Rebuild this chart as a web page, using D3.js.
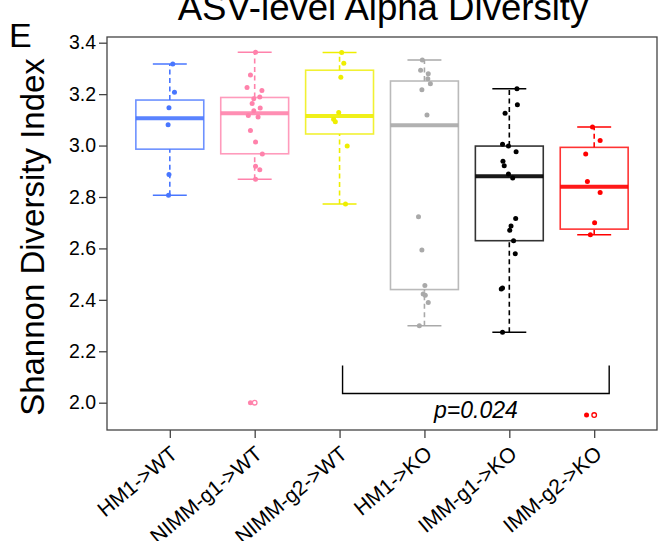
<!DOCTYPE html>
<html>
<head>
<meta charset="utf-8">
<script src="https://cdn.jsdelivr.net/npm/d3@7"></script>
<style>
    body { margin: 0; background: #fff; }
    svg { display: block; font-family: "Liberation Sans", Arial, sans-serif; }
</style>
</head>
<body>
<div class="chart"></div>
<script>
const groups = ["HM1->WT", "NIMM-g1->WT", "NIMM-g2->WT", "HM1->KO", "IMM-g1->KO", "IMM-g2->KO"]
const colors = ["#4876ff", "#ff82ab", "#eeee00", "#a9a9a9", "#000000", "#ff0000"]

// box stats: [lower whisker, q1, median, q3, upper whisker]
const boxStats = [
    [2.807, 2.986, 3.106, 3.177, 3.317],
    [2.869, 2.968, 3.126, 3.187, 3.363],
    [2.773, 3.045, 3.115, 3.293, 3.362],
    [2.299, 2.440, 3.079, 3.251, 3.333],
    [2.274, 2.630, 2.881, 2.998, 3.221],
    [2.653, 2.675, 2.840, 2.993, 3.072]
]

// shannon values per group
const hm1Wt = [3.317, 3.207, 3.147, 3.081, 2.887, 2.807]
const nimmG1Wt = [3.363, 3.274, 3.226, 3.214, 3.189, 3.182, 3.164, 3.146, 3.135, 3.117, 3.111, 3.059, 3.014, 2.967, 2.920, 2.906, 2.869, 2.000]
const nimmG2Wt = [3.362, 3.320, 3.266, 3.129, 3.102, 3.093, 2.998, 2.773]
const hm1Ko = [3.333, 3.293, 3.279, 3.260, 3.240, 3.217, 3.119, 2.723, 2.594, 2.456, 2.423, 2.418, 2.390, 2.299]
const immG1Ko = [3.221, 3.159, 3.126, 3.005, 2.998, 2.976, 2.939, 2.921, 2.889, 2.874, 2.716, 2.687, 2.671, 2.630, 2.579, 2.446, 2.442, 2.274]
const immG2Ko = [3.072, 3.020, 2.967, 2.860, 2.817, 2.700, 2.653, 1.952]
const values = [hm1Wt, nimmG1Wt, nimmG2Wt, hm1Ko, immG1Ko, immG2Ko]

// outliers (drawn as open circles)
const outliers = [[], [2.000], [], [], [], [1.952]]

// horizontal jitter of the points, as fraction of the category step
const jitter = [
    [0.035, 0.055, -0.01, -0.02, -0.01, -0.015],
    [0.01, -0.05, -0.09, 0.085, 0.06, -0.01, -0.03, 0.065, -0.01, -0.075, 0.04, -0.05, 0.01, 0.09, 0.01, 0.06, 0.01, -0.05],
    [0.025, 0.05, 0.015, -0.01, -0.07, -0.05, 0.09, 0.07],
    [-0.025, -0.045, 0.045, 0.04, 0.07, -0.03, 0.03, -0.07, -0.03, 0.005, -0.015, 0.01, 0.045, -0.06],
    [0.09, 0.095, -0.05, -0.08, -0.01, 0.08, -0.075, -0.06, -0.01, 0.04, 0.075, 0.02, 0.005, 0.05, 0.07, -0.08, -0.095, -0.08],
    [-0.02, 0.07, -0.1, -0.08, 0.07, 0.005, -0.045, -0.09]
]

const yTicks = [2.0, 2.2, 2.4, 2.6, 2.8, 3.0, 3.2, 3.4]

// significance bracket
const bracketFrom = "NIMM-g2->WT"
const bracketTo = "IMM-g2->KO"
const bracketTop = 2.145
const bracketBottom = 2.036
const pLabel = "p=0.024"
const pLabelY = 1.940

const width = 659
const height = 541
const panel = { left: 107, right: 657, top: 37, bottom: 430 }

const svg = d3.select(".chart")
    .append("svg")
    .attr("width", width)
    .attr("height", height)

const x = d3.scalePoint()
    .domain(groups)
    .range([panel.left, panel.right])
    .padding(0.74)

const y = d3.scaleLinear()
    .domain([2.0, 3.4])
    .range([402.7, 42.7])

const step = x.step()
const boxW = step * 0.8
const capW = step * 0.4

//panel border
svg.append("rect")
    .attr("x", panel.left)
    .attr("y", panel.top)
    .attr("width", panel.right - panel.left)
    .attr("height", panel.bottom - panel.top)
    .attr("fill", "none")
    .attr("stroke", "#444")
    .attr("stroke-width", 1.3)

//y axis
svg.append("g")
    .attr("transform", `translate(${panel.left}, 0)`)
    .style("font-size", "19.5px")
    .style("font-family", "Liberation Sans, Arial, sans-serif")
    .call(d3.axisLeft(y)
        .tickValues(yTicks)
        .tickFormat(d3.format(".1f"))
        .tickSize(8)
        .tickPadding(3))
    .call(g => g.select(".domain").remove())
    .call(g => g.selectAll(".tick line").attr("stroke", "#444").attr("stroke-width", 1.3))
    .selectAll(".tick text")
    .attr("fill", "#000")

//x axis
svg.append("g")
    .attr("transform", `translate(0, ${panel.bottom})`)
    .call(d3.axisBottom(x).tickSize(8).tickFormat(""))
    .call(g => g.select(".domain").remove())
    .call(g => g.selectAll(".tick line").attr("stroke", "#444").attr("stroke-width", 1.3))

svg.selectAll(".xlabel")
    .data(groups)
    .join("text")
    .attr("class", "xlabel")
    .attr("transform", d => `translate(${x(d) + 9}, 456) rotate(-40)`)
    .attr("text-anchor", "end")
    .style("font-size", "21px")
    .attr("fill", "#000")
    .text(d => d)

// boxes
const box = svg.selectAll(".box")
    .data(groups)
    .join("g")
    .attr("class", "box")

box.each(function (d, i) {
    const g = d3.select(this)
    const cx = x(d)
    const [lo, q1, med, q3, hi] = boxStats[i]
    const col = colors[i]

    //whiskers
    g.selectAll(".whisker")
        .data([[lo, q1], [q3, hi]])
        .join("line")
        .attr("x1", cx).attr("x2", cx)
        .attr("y1", e => y(e[0])).attr("y2", e => y(e[1]))
        .attr("stroke", col)
        .attr("stroke-width", 1.6)
        .attr("stroke-dasharray", "5,3.5")

    g.selectAll(".cap")
        .data([lo, hi])
        .join("line")
        .attr("x1", cx - capW / 2).attr("x2", cx + capW / 2)
        .attr("y1", e => y(e)).attr("y2", e => y(e))
        .attr("stroke", col)
        .attr("stroke-width", 1.6)

    g.append("rect")
        .attr("x", cx - boxW / 2)
        .attr("y", y(q3))
        .attr("width", boxW)
        .attr("height", y(q1) - y(q3))
        .attr("fill", "none")
        .attr("stroke", col)
        .attr("stroke-opacity", 0.8)
        .attr("stroke-width", 1.6)

    g.append("line")
        .attr("x1", cx - boxW / 2).attr("x2", cx + boxW / 2)
        .attr("y1", y(med)).attr("y2", y(med))
        .attr("stroke", col)
        .attr("stroke-opacity", 0.9)
        .attr("stroke-width", 4)

    //outliers
    g.selectAll(".outlier")
        .data(outliers[i])
        .join("circle")
        .attr("cx", cx)
        .attr("cy", e => y(e))
        .attr("r", 2.3)
        .attr("fill", "none")
        .attr("stroke", col)
        .attr("stroke-width", 1.3)

    //jittered points
    g.selectAll(".pt")
        .data(values[i])
        .join("circle")
        .attr("cx", (e, j) => cx + jitter[i][j] * step)
        .attr("cy", e => y(e))
        .attr("r", 2.5)
        .attr("fill", col)
})

//significance bracket
const bx0 = x(bracketFrom) + 3
const bx1 = x(bracketTo) + 15
svg.append("path")
    .attr("d", `M${bx0},${y(bracketTop)} V${y(bracketBottom)} H${bx1} V${y(bracketTop)}`)
    .attr("fill", "none")
    .attr("stroke", "#000")
    .attr("stroke-width", 1.4)

svg.append("text")
    .attr("x", (bx0 + bx1) / 2)
    .attr("y", y(pLabelY))
    .attr("text-anchor", "middle")
    .style("font-size", "23px")
    .style("font-style", "italic")
    .text(pLabel)

//y axis label
svg.append("text")
    .attr("transform", `translate(44, 237) rotate(-90)`)
    .attr("text-anchor", "middle")
    .style("font-size", "33px")
    .text("Shannon Diversity Index")

//chart title
svg.append("text")
    .attr("x", 383)
    .attr("y", 20)
    .attr("text-anchor", "middle")
    .style("font-size", "36.6px")
    .text("ASV-level Alpha Diversity")

//panel letter
svg.append("text")
    .attr("x", 9)
    .attr("y", 47)
    .style("font-size", "34px")
    .text("E")
</script>
</body>
</html>
